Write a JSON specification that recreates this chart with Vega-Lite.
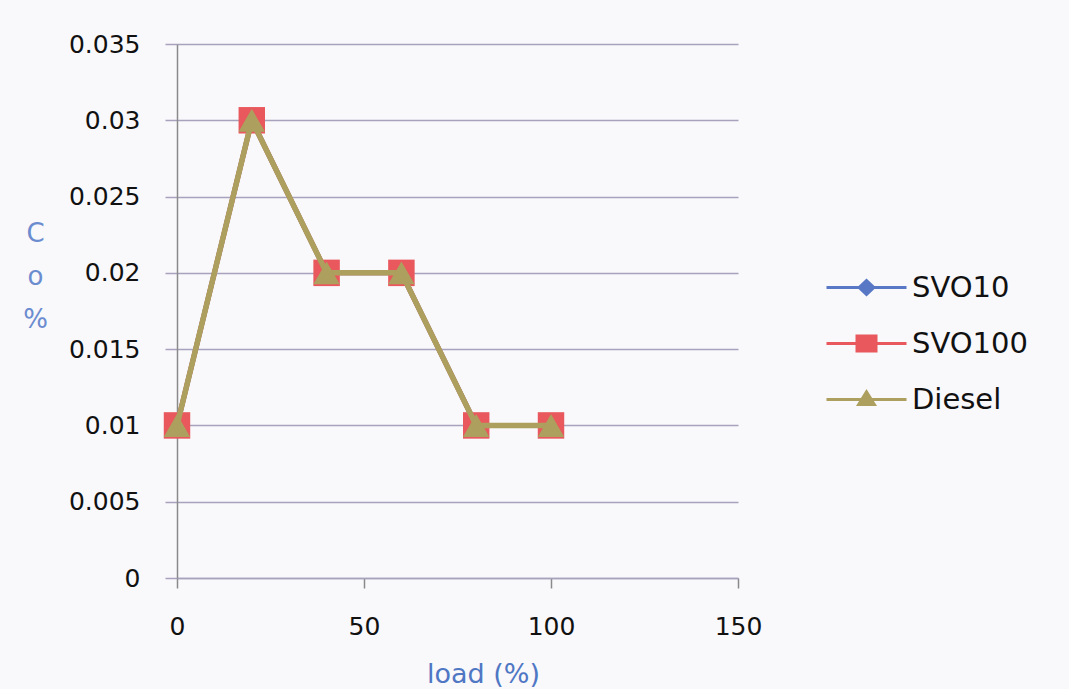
{
  "$schema": "https://vega.github.io/schema/vega-lite/v6.json",
  "width": 561,
  "height": 534,
  "autosize": "none",
  "padding": {"left": 177, "top": 44, "right": 331, "bottom": 111},
  "background": "#f9f8fb",
  "config": {
    "view": {"stroke": null},
    "font": "DejaVu Sans"
  },
  "data": {
    "values": [
      {"series": "SVO10", "load": 0, "co": 0.01},
      {"series": "SVO10", "load": 20, "co": 0.03},
      {"series": "SVO10", "load": 40, "co": 0.02},
      {"series": "SVO10", "load": 60, "co": 0.02},
      {"series": "SVO10", "load": 80, "co": 0.01},
      {"series": "SVO10", "load": 100, "co": 0.01},
      {"series": "SVO100", "load": 0, "co": 0.01},
      {"series": "SVO100", "load": 20, "co": 0.03},
      {"series": "SVO100", "load": 40, "co": 0.02},
      {"series": "SVO100", "load": 60, "co": 0.02},
      {"series": "SVO100", "load": 80, "co": 0.01},
      {"series": "SVO100", "load": 100, "co": 0.01},
      {"series": "Diesel", "load": 0, "co": 0.01},
      {"series": "Diesel", "load": 20, "co": 0.03},
      {"series": "Diesel", "load": 40, "co": 0.02},
      {"series": "Diesel", "load": 60, "co": 0.02},
      {"series": "Diesel", "load": 80, "co": 0.01},
      {"series": "Diesel", "load": 100, "co": 0.01}
    ]
  },
  "encoding": {
    "x": {
      "field": "load", "type": "quantitative",
      "scale": {"domain": [0, 150], "nice": false, "zero": false},
      "axis": {
        "values": [0, 50, 100, 150],
        "grid": false,
        "title": "load (%)",
        "titleFont": "DejaVu Sans",
        "titleFontSize": 27,
        "titleFontWeight": "normal",
        "titleColor": "#4f77c4",
        "titleX": 306,
        "titleY": 104,
        "titleBaseline": "alphabetic",
        "titleAnchor": null,
        "domainColor": "#a8a2bd",
        "domainWidth": 1.5,
        "tickColor": "#8a8a8a",
        "tickSize": 10,
        "tickWidth": 1.5,
        "labelFontSize": 25,
        "labelColor": "#111111",
        "labelPadding": 38,
        "labelBaseline": "middle",
        "labelFlush": false
      }
    },
    "y": {
      "field": "co", "type": "quantitative",
      "scale": {"domain": [0, 0.035], "nice": false},
      "axis": {
        "values": [0, 0.005, 0.01, 0.015, 0.02, 0.025, 0.03, 0.035],
        "labelExpr": "datum.value == 0 ? '0' : format(datum.value, '.3~f')",
        "grid": true,
        "gridColor": "#a8a2bd",
        "gridWidth": 1.5,
        "domainColor": "#8a8a8a",
        "domainWidth": 1.5,
        "tickColor": "#a8a2bd",
        "tickSize": 12,
        "tickWidth": 1.5,
        "labelFontSize": 25,
        "labelColor": "#111111",
        "labelPadding": 25,
        "labelBaseline": "middle",
        "labelFlush": false,
        "title": ["C", "o", "%"],
        "titleAngle": 0,
        "titleFont": "DejaVu Sans",
        "titleFontSize": 26,
        "titleFontWeight": "normal",
        "titleColor": "#6b8ccf",
        "titleLineHeight": 43,
        "titleAlign": "center",
        "titleBaseline": "middle",
        "titleX": -142,
        "titleY": 189,
        "titleAnchor": null
      }
    },
    "color": {
      "field": "series", "type": "nominal",
      "scale": {"domain": ["SVO10", "SVO100", "Diesel"], "range": ["#5878c6", "#e8585c", "#ad9f5e"]},
      "legend": {
        "title": null,
        "orient": "none",
        "legendX": 675,
        "legendY": 229,
        "padding": 0,
        "symbolSize": 400,
        "symbolStrokeWidth": 0,
        "labelFontSize": 29,
        "labelFont": "DejaVu Sans",
        "labelColor": "#111111",
        "labelOffset": 31,
        "rowPadding": 26,
        "encode": {
          "symbols": {
            "update": {
              "shape": {"signal": "datum.value == 'SVO10' ? 'M-4,-0.15L4,-0.15L4,0.15L-4,0.15Z M0,-0.9L0.95,0L0,0.9L-0.95,0Z' : datum.value == 'SVO100' ? 'M-4,-0.15L4,-0.15L4,0.15L-4,0.15Z M-1.1,-0.9L1.1,-0.9L1.1,0.9L-1.1,0.9Z' : 'M-4,-0.15L4,-0.15L4,0.15L-4,0.15Z M0,-1.05L1.05,0.65L-1.05,0.65Z'"},
              "fill": {"signal": "scale('color', datum.value)"},
              "stroke": {"signal": "scale('color', datum.value)"},
              "strokeWidth": {"value": 0},
              "opacity": {"value": 1},
              "fillOpacity": {"value": 1}
            }
          }
        }
      }
    }
  },
  "layer": [
    {
      "transform": [{"filter": "datum.series == 'SVO10'"}],
      "mark": {"type": "line", "strokeWidth": 5}
    },
    {
      "transform": [{"filter": "datum.series == 'SVO10'"}],
      "mark": {"type": "point", "filled": true, "opacity": 1, "size": 500, "strokeWidth": 0, "shape": "diamond"}
    },
    {
      "transform": [{"filter": "datum.series == 'SVO100'"}],
      "mark": {"type": "line", "strokeWidth": 5}
    },
    {
      "transform": [{"filter": "datum.series == 'SVO100'"}],
      "mark": {"type": "point", "filled": true, "opacity": 1, "size": 700, "strokeWidth": 0, "shape": "square"}
    },
    {
      "transform": [{"filter": "datum.series == 'Diesel'"}],
      "mark": {"type": "line", "strokeWidth": 5.5}
    },
    {
      "transform": [{"filter": "datum.series == 'Diesel'"}],
      "mark": {"type": "point", "filled": true, "opacity": 1, "size": 700, "strokeWidth": 0, "shape": "triangle-up"}
    }
  ]
}
